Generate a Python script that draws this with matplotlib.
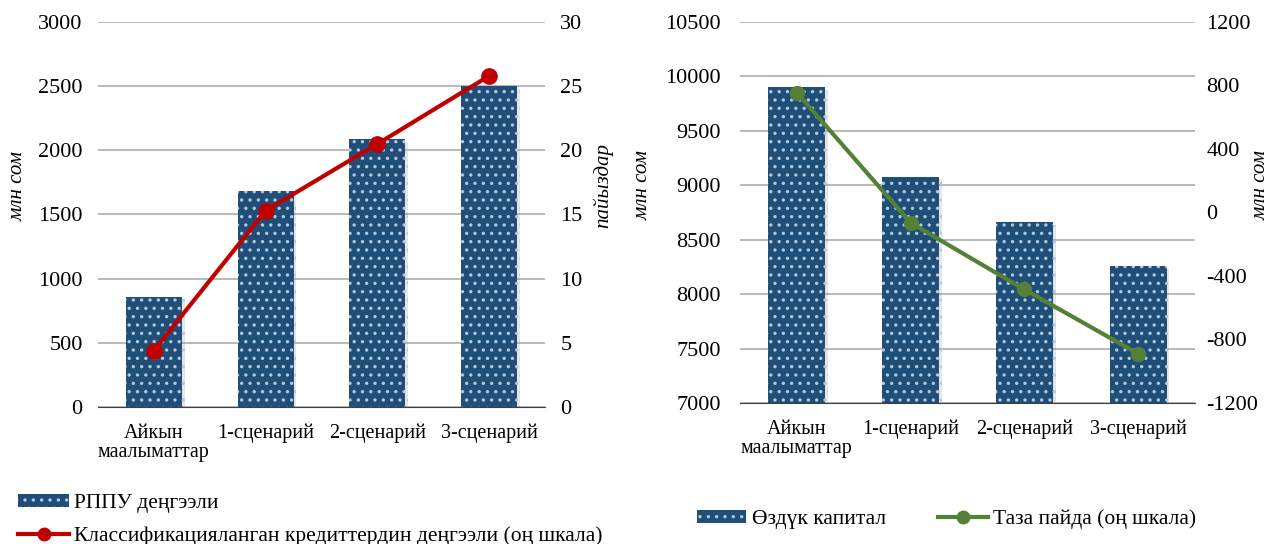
import matplotlib

matplotlib.use("Agg")
import matplotlib.pyplot as plt
import matplotlib.patheffects as pe
from matplotlib.lines import Line2D
from matplotlib.patches import Patch

# --- data ---
CATEGORIES = ["Айкын\nмаалыматтар", "1-сценарий", "2-сценарий", "3-сценарий"]
RPPU = [860, 1685, 2090, 2500]            # млн сом
CLASSIFIED = [4.4, 15.3, 20.5, 25.8]      # пайыздар (right axis)
EQUITY = [9900, 9080, 8665, 8255]         # млн сом
NET_PROFIT = [755, -65, -485, -890]       # млн сом (right axis)

BLUE = "#1F4E79"
DOT = "#B4C7DC"
RED = "#C00000"
GREEN = "#538135"
GRID = "#A6A6A6"
AXIS = "#404040"

plt.rcParams.update({
    "font.family": ["Liberation Serif", "DejaVu Serif"],
    "font.size": 16,
    "hatch.linewidth": 1.2,
    "axes.unicode_minus": False,
})

SHADOW = [pe.SimplePatchShadow(offset=(2, -2), shadow_rgbFace="#909090", alpha=0.22),
          pe.Normal()]

fig = plt.figure(figsize=(12.69, 5.44), dpi=100)
ax1 = fig.add_axes([0.0772, 0.2518, 0.3523, 0.7078])
ax2 = fig.add_axes([0.5831, 0.2592, 0.3586, 0.7004])


def style(ax, pad_left):
    for side in ("top", "right", "left"):
        ax.spines[side].set_visible(False)
    ax.spines["bottom"].set_color(AXIS)
    ax.yaxis.grid(True, color=GRID, linewidth=1.1, zorder=0)
    ax.set_axisbelow(True)
    ax.tick_params(axis="y", length=0, pad=pad_left, labelsize=16)
    ax.tick_params(axis="x", length=0, pad=12, labelsize=14.5)


def bare(ax, pad):
    for side in ("top", "right", "left", "bottom"):
        ax.spines[side].set_visible(False)
    ax.tick_params(axis="y", length=0, pad=pad, labelsize=16)


x = list(range(len(CATEGORIES)))

# --- left chart ---
bars1 = ax1.bar(x, RPPU, 0.5, color=BLUE, edgecolor=DOT, linewidth=0, hatch="..", zorder=2)
for b in bars1:
    b.set_path_effects(SHADOW)
ax1.set_xlim(-0.5, 3.5)
ax1.set_ylim(0, 3000)
ax1.set_yticks(range(0, 3001, 500))
ax1.set_xticks(x)
ax1.set_xticklabels(CATEGORIES, linespacing=1.0)
style(ax1, 11)

ax1r = ax1.twinx()
ax1r.plot(x, CLASSIFIED, color=RED, lw=3, marker="o", ms=11, zorder=3)
ax1r.set_ylim(0, 30)
ax1r.set_yticks(range(0, 31, 5))
bare(ax1r, 11)

# --- right chart ---
bars2 = ax2.bar(x, EQUITY, 0.5, color=BLUE, edgecolor=DOT, linewidth=0, hatch="..", zorder=2)
for b in bars2:
    b.set_path_effects(SHADOW)
ax2.set_xlim(-0.5, 3.5)
ax2.set_ylim(7000, 10500)
ax2.set_yticks(range(7000, 10501, 500))
ax2.set_xticks(x)
ax2.set_xticklabels(CATEGORIES, linespacing=1.0)
style(ax2, 14)

ax2r = ax2.twinx()
ax2r.plot(x, NET_PROFIT, color=GREEN, lw=3, marker="o", ms=10, zorder=3)
ax2r.set_ylim(-1200, 1200)
ax2r.set_yticks(range(-1200, 1201, 400))
bare(ax2r, 8)

# axis titles (placed in figure pixels, like the reference)
W, H = 1269, 544
for px, py, txt in [(18, 186, "млн сом"), (603, 185, "пайыздар"),
                    (643, 185, "млн сом"), (1261, 185, "млн сом")]:
    fig.text(px / W, 1 - py / H, txt, rotation=90, ha="center", va="center",
             style="italic", fontsize=15)

# --- legends ---
h_rppu = Patch(facecolor=BLUE, edgecolor=DOT, linewidth=0, hatch="..")
h_cls = Line2D([], [], color=RED, lw=3, marker="o", ms=9)
fig.legend([h_rppu, h_cls],
           ["РППУ деңгээли", "Классификацияланган кредиттердин деңгээли (оң шкала)"],
           loc="upper left", bbox_to_anchor=(0.014, 0.092), frameon=False,
           fontsize=15.5, handlelength=2.4, handleheight=0.55, handletextpad=0.2,
           labelspacing=0.62, borderpad=0, borderaxespad=0)

h_eq = Patch(facecolor=BLUE, edgecolor=DOT, linewidth=0, hatch="..")
h_np = Line2D([], [], color=GREEN, lw=3, marker="o", ms=9)
fig.legend([h_eq, h_np], ["Өздүк капитал", "Таза пайда (оң шкала)"],
           loc="upper left", bbox_to_anchor=(0.549, 0.063), frameon=False,
           fontsize=15.5, ncol=2, handlelength=2.3, handleheight=0.55,
           handletextpad=0.25, columnspacing=2.45, borderpad=0, borderaxespad=0)

fig.savefig("out.png", facecolor="white")
